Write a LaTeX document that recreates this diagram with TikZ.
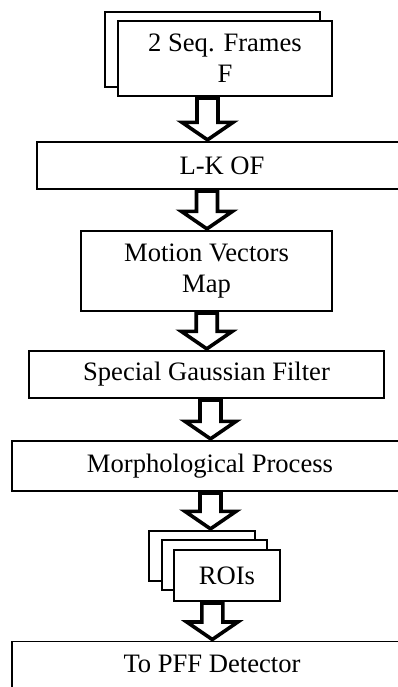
\documentclass[tikz,border=0pt]{standalone}
\usepackage{fontspec}
\setmainfont{Liberation Serif}
\usetikzlibrary{calc}
\usetikzlibrary{positioning}
\tikzset{
    Box/.style = {rectangle, draw=black, line width=1.3pt, fill=white, align=center, inner sep=0pt}
}
\tikzset{
    Arrow/.style = {draw=black, line width=3.6pt, line join=miter, fill=white}
}
% hollow block arrow: #1 x centre, #2 from node, #3 to node
\newcommand{\flowarrow}[3]{%
  \path[Arrow] let \p1=(#2.south), \p2=(#3.north) in
    ({#1-10.5},\y1-1.5pt) -- ({#1-10.5},\y2+19pt) -- ({#1-25.5},\y2+19pt)
    -- ({#1},\y2+1.5pt) -- ({#1+25.5},\y2+19pt) -- ({#1+10.5},\y2+19pt)
    -- ({#1+10.5},\y1-1.5pt) -- cycle;}

\begin{document}
\begin{tikzpicture}[
    x=1pt, y=-1pt,
    font=\fontsize{26.6}{31}\selectfont
]
\useasboundingbox (0,0) rectangle (398,687);

\node[Box, minimum width=215pt, minimum height=75pt] at (212.5,49.5) (framesback) {};
\node[Box, minimum width=214pt, minimum height=75pt] at (225,58.5) (frames) {2 Seq. Frames\\F};
\node[Box, minimum width=370pt, minimum height=47pt] at (222,165.5) (lkof) {L-K OF};
\node[Box, minimum width=251pt, minimum height=80pt] at (206.5,271) (mvmap) {Motion Vectors\\Map};
\node[Box, minimum width=355pt, minimum height=47pt] at (206.5,374.5) (gauss) {Special Gaussian Filter};
\node[Box, minimum width=396pt, minimum height=50pt] at (210,466) (morph) {Morphological Process};
\node[Box, minimum width=106pt, minimum height=50pt] at (202,556) (roisback) {};
\node[Box, minimum width=105pt, minimum height=50pt] at (214.5,565) (roismid) {};
\node[Box, minimum width=106pt, minimum height=51pt] at (227,575.5) (rois) {ROIs};
\node[Box, minimum width=400pt, minimum height=84pt, anchor=north,
      inner ysep=13pt, text height=18pt, text depth=40pt] at (212,641) (pff) {To PFF Detector};

\flowarrow{207.5}{frames}{lkof}
\flowarrow{207}{lkof}{mvmap}
\flowarrow{206.7}{mvmap}{gauss}
\flowarrow{210.5}{gauss}{morph}
\flowarrow{210.5}{morph}{roisback}
\flowarrow{212.3}{rois}{pff}
\end{tikzpicture}
\end{document}
